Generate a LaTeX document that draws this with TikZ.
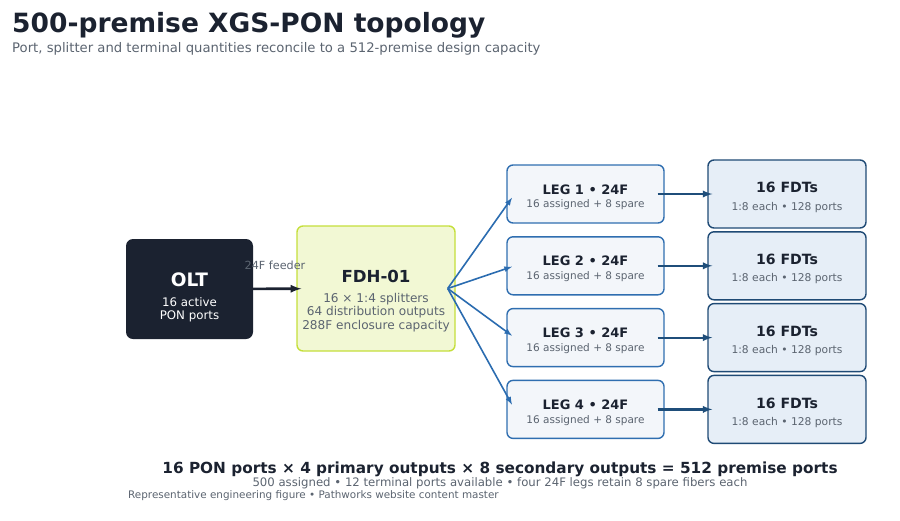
\documentclass[tikz,border=0pt]{standalone}
\usepackage{fontspec}
\setmainfont{DejaVu Sans}
\usetikzlibrary{positioning,calc}
\definecolor{ink}{HTML}{1B2230}
\definecolor{muted}{HTML}{5B6470}
\definecolor{fdhfill}{HTML}{F2F8D4}
\definecolor{fdhline}{HTML}{C5DF3B}
\definecolor{legfill}{HTML}{F3F6FA}
\definecolor{legline}{HTML}{2F6EB0}
\definecolor{fanblue}{HTML}{2B6CB0}
\definecolor{fdtfill}{HTML}{E6EEF7}
\definecolor{fdtline}{HTML}{1F4A75}
\definecolor{fdtarrow}{HTML}{1F4E7A}

\begin{document}
\begin{tikzpicture}[x=1pt,y=-1pt,>=latex,
    legbox/.style={draw=legline,fill=legfill,rounded corners=6pt,line width=1.4pt,
      minimum width=157pt,minimum height=58pt},
    fdtbox/.style={draw=fdtline,fill=fdtfill,rounded corners=6pt,line width=1.4pt,
      minimum width=158pt,minimum height=68pt},
    txt/.style={anchor=base,inner sep=0pt,text=muted},
    head/.style={anchor=base,inner sep=0pt,text=ink},
    fan/.style={->,draw=fanblue,line width=1.6pt},
    feed/.style={->,draw=fdtarrow,line width=2.2pt}]
  \useasboundingbox (0,0) rectangle (900,520);
% heading
  \node[head,anchor=base west,font=\fontsize{26.5}{30}\selectfont\bfseries]
    (title) at (12,32) {500-premise XGS-PON topology};
  \node[txt,anchor=base west,font=\fontsize{13.2}{16}\selectfont]
    (subtitle) at (12,52) {Port, splitter and terminal quantities reconcile to a 512-premise design capacity};
% OLT and hub
  \node[fill=ink,rounded corners=7pt,minimum width=127pt,minimum height=100pt] (olt) at (189.5,289) {};
  \node[head,text=white,font=\fontsize{18.5}{20}\selectfont\bfseries] (oltname) at (189.5,286) {OLT};
  \node[txt,text=white,font=\fontsize{11.8}{13}\selectfont] (oltports) at (189.5,306) {16 active};
  \node[txt,text=white,font=\fontsize{11.8}{13}\selectfont] (oltpon) at (189.5,319) {PON ports};
  \node[draw=fdhline,fill=fdhfill,rounded corners=6pt,line width=1.4pt,
    minimum width=158pt,minimum height=125pt] (fdh) at (376,288.5) {};
  \node[head,font=\fontsize{16.6}{20}\selectfont\bfseries] (fdhname) at (376,282) {FDH-01};
  \node[txt,font=\fontsize{12.1}{14}\selectfont] (fdhsplit) at (376,302.8) {16 × 1:4 splitters};
  \node[txt,font=\fontsize{12.1}{14}\selectfont] (fdhout) at (376,315.9) {64 distribution outputs};
  \node[txt,font=\fontsize{12.1}{14}\selectfont] (fdhcap) at (376,329) {288F enclosure capacity};
  \draw[->,draw=ink,line width=2.6pt,shorten >=-5pt] (olt) -- (fdh);
  \node[txt,font=\fontsize{11.2}{13}\selectfont] (feeder) at (275,269.5) {24F feeder};
  \coordinate (hub) at ([xshift=-8pt]fdh.east);
% legs and terminals
  \foreach \i in {1,...,4} {
    \pgfmathsetmacro\y{194+71.8*(\i-1)}
    \node[legbox] (leg\i) at (585.5,\y) {};
    \node[head,font=\fontsize{13}{15}\selectfont\bfseries] at (585.5,\y) {LEG \i\ • 24F};
    \node[txt,font=\fontsize{10.5}{12}\selectfont] at (585.5,\y+13.7) {16 assigned + 8 spare};
    \node[fdtbox] (fdt\i) at (787,\y) {};
    \node[head,font=\fontsize{14.1}{16}\selectfont\bfseries] at (787,\y-1.4) {16 FDTs};
    \node[txt,font=\fontsize{10.7}{12}\selectfont] at (787,\y+16) {1:8 each • 128 ports};
    \draw[fan] (hub) -- ([xshift=8pt]$(leg\i.west)!0.04!(hub)$);
    \draw[feed,shorten <=-7pt,shorten >=-5pt] (leg\i) -- (fdt\i);
  }
% totals
  \node[head,font=\fontsize{15.3}{18}\selectfont\bfseries] (total) at (500,473.3)
    {16 PON ports × 4 primary outputs × 8 secondary outputs = 512 premise ports};
  \node[txt,font=\fontsize{11.7}{14}\selectfont] (spare) at (500,486.5)
    {500 assigned • 12 terminal ports available • four 24F legs retain 8 spare fibers each};
  \node[txt,anchor=base west,font=\fontsize{10.4}{12}\selectfont] (footer) at (128,498.5)
    {Representative engineering figure • Pathworks website content master};
\end{tikzpicture}
\end{document}
